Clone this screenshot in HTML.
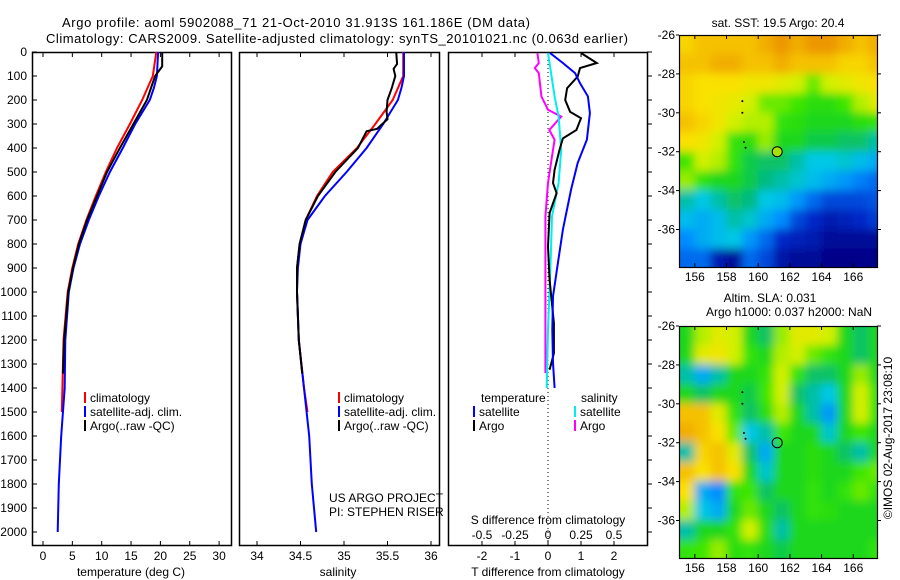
<!DOCTYPE html>
<html><head><meta charset="utf-8"><style>
body{margin:0;background:#fff}
svg{display:block;font-family:"Liberation Sans",sans-serif}
text{font-size:12px;fill:#000}
</style></head><body>
<svg id="s" width="900" height="580" viewBox="0 0 900 580">
<defs><filter id="bl" x="-10%" y="-10%" width="120%" height="120%"><feGaussianBlur stdDeviation="4.5"/></filter></defs>
<rect width="900" height="580" fill="#fff"/>
<text x="62" y="27" textLength="468" style="font-size:13px">Argo profile: aoml 5902088_71 21-Oct-2010 31.913S 161.186E (DM data)</text>
<text x="46" y="43" textLength="582" style="font-size:13px">Climatology: CARS2009. Satellite-adjusted climatology: synTS_20101021.nc (0.063d earlier)</text>
<g id="g"></g>
</svg>
<script>
// ---------- data ----------
const depthTicks=[0,100,200,300,400,500,600,700,800,900,1000,1100,1200,1300,1400,1500,1600,1700,1800,1900,2000];
const tempTicks=[0,5,10,15,20,25,30];
const salTicks=[34,34.5,35,35.5,36];
const tdiffTicks=[-2,-1,0,1,2];
const sdiffTicks=[-0.5,-0.25,0,0.25,0.5];
const lonTicks=[156,158,160,162,164,166];
const latTicks=[-26,-28,-30,-32,-34,-36];

const climDepth=[0,100,200,300,400,500,600,700,800,900,1000,1200,1400,1500];
const climTemp=[19.3,18.7,16.9,14.8,12.6,10.7,9.0,7.4,6.0,5.0,4.2,3.5,3.3,3.2];
const satDepth=[0,100,150,200,300,400,500,600,700,800,900,1000,1200,1400,1600,1800,2000];
const satTemp=[19.6,19.4,18.9,18.2,15.7,13.6,11.4,9.5,7.8,6.3,5.2,4.4,3.8,3.7,3.1,2.7,2.5];
const argoDepth=[0,60,100,200,300,400,500,600,700,800,900,1000,1200,1340];
const argoTemp=[20.3,20.3,19.1,17.7,15.4,13.1,10.9,9.2,7.5,6.1,5.1,4.3,3.6,3.4];

const climSal=[35.68,35.68,35.56,35.36,35.15,34.87,34.69,34.56,34.49,34.46,34.46,34.48,34.54,34.58];
const satSal=[35.69,35.69,35.66,35.62,35.45,35.26,35.03,34.78,34.58,34.5,34.47,34.46,34.48,34.54,34.6,34.63,34.68];
const argoSalDepth=[0,50,70,100,150,200,250,280,320,330,400,500,600,700,800,900,1000,1200,1340];
const argoSal=[35.6,35.61,35.57,35.59,35.55,35.5,35.49,35.5,35.38,35.26,35.16,34.9,34.7,34.56,34.49,34.46,34.46,34.48,34.52];

const tSatDiffDepth=[4,46,88,130,185,254,365,462,573,740,879,1018,1157,1296,1400];
const tSatDiff=[0.06,0.45,0.82,0.97,1.21,1.27,1.18,0.9,0.7,0.45,0.3,0.15,0.13,0.15,0.2];
const tArgoDiffDepth=[4,46,67,102,151,200,249,276,325,360,408,491,546,588,671,810,949,1130,1255,1324];
const tArgoDiff=[1.0,1.48,0.97,0.9,0.58,0.52,0.67,1.0,0.86,0.45,0.35,0.2,0.15,0.26,0.05,0,0.05,0.18,0.18,0.05];
const sSatDiffDepth=[4,185,269,408,546,685,880,1157,1400];
const sSatDiff=[0,0.05,0.08,0.1,0.08,0.03,0.02,0,-0.01];
const sArgoDiffDepth=[4,46,67,88,185,241,269,325,366,435,546,685,880,1157,1338];
const sArgoDiff=[-0.08,-0.07,-0.1,-0.07,-0.05,0,0.1,0.01,0.05,0.03,0,-0.02,-0.02,-0.02,-0.02];

const sstGrid=[
[0.82,0.85,0.85,0.85,0.85,0.88,0.92,0.88,0.92,0.92,0.88,0.85,0.88],
[0.85,0.85,0.88,0.88,0.85,0.85,0.88,0.85,0.85,0.85,0.82,0.82,0.85],
[0.82,0.8,0.8,0.8,0.78,0.78,0.75,0.72,0.65,0.72,0.75,0.78,0.8],
[0.82,0.8,0.78,0.76,0.72,0.65,0.65,0.62,0.58,0.58,0.62,0.7,0.75],
[0.85,0.82,0.78,0.72,0.7,0.7,0.6,0.58,0.55,0.55,0.55,0.58,0.6],
[0.8,0.78,0.72,0.6,0.58,0.68,0.55,0.55,0.52,0.52,0.5,0.5,0.45],
[0.62,0.72,0.7,0.6,0.52,0.5,0.5,0.45,0.4,0.4,0.42,0.38,0.35],
[0.68,0.6,0.55,0.55,0.52,0.48,0.45,0.42,0.38,0.35,0.32,0.28,0.25],
[0.45,0.4,0.45,0.5,0.48,0.4,0.38,0.32,0.25,0.2,0.2,0.2,0.22],
[0.38,0.35,0.38,0.45,0.42,0.35,0.3,0.2,0.15,0.1,0.12,0.15,0.18],
[0.3,0.35,0.38,0.4,0.32,0.25,0.15,0.12,0.1,0.05,0.05,0.05,0.05],
[0.25,0.25,0.1,0.05,0.25,0.2,0.08,0.05,0.05,0.02,0.02,0.02,0.02]];
const slaGrid=[
[0.55,0.7,0.75,0.72,0.55,0.5,0.68,0.75,0.75,0.72,0.55,0.5,0.55],
[0.55,0.75,0.78,0.72,0.6,0.55,0.7,0.72,0.65,0.6,0.55,0.5,0.55],
[0.45,0.35,0.45,0.55,0.55,0.6,0.72,0.6,0.5,0.5,0.55,0.68,0.55],
[0.55,0.5,0.55,0.55,0.52,0.62,0.72,0.5,0.45,0.4,0.55,0.72,0.6],
[0.85,0.85,0.75,0.6,0.5,0.58,0.7,0.55,0.45,0.32,0.55,0.72,0.6],
[0.88,0.85,0.8,0.65,0.4,0.45,0.62,0.55,0.55,0.42,0.55,0.62,0.55],
[0.45,0.82,0.85,0.75,0.5,0.35,0.55,0.55,0.58,0.55,0.5,0.45,0.55],
[0.85,0.8,0.85,0.8,0.55,0.42,0.55,0.55,0.58,0.55,0.55,0.62,0.65],
[0.8,0.35,0.3,0.6,0.62,0.5,0.55,0.55,0.6,0.55,0.6,0.65,0.6],
[0.7,0.4,0.35,0.55,0.65,0.55,0.5,0.55,0.6,0.58,0.55,0.55,0.55],
[0.45,0.55,0.55,0.6,0.72,0.58,0.45,0.55,0.55,0.55,0.55,0.55,0.55],
[0.6,0.62,0.68,0.58,0.6,0.55,0.52,0.55,0.55,0.55,0.55,0.55,0.6]];
const floatLon=[159,159,159.1,159.2];
const floatLat=[-29.4,-30,-31.5,-31.8];
const argoLon=161.2, argoLat=-32;

// ---------- drawing ----------
const NS="http://www.w3.org/2000/svg";
const G=document.getElementById('g');
function el(t,a,p){const e=document.createElementNS(NS,t);for(const k in a)e.setAttribute(k,a[k]);(p||G).appendChild(e);return e;}
function txt(x,y,s,anchor,p,size){const e=el('text',{x:x,y:y,'text-anchor':anchor||'start'},p);if(size)e.style.fontSize=size+'px';e.textContent=s;return e;}
const Y0=52, Y1=545;
const yD=d=>Y0+d*0.24;
const xT=v=>43+v*5.87;
const xS=v=>257+(v-34)*87;
const xTd=v=>548+v*33;
const xSd=v=>548+v*132;

function frame(x0,x1,name){
  const r=el('rect',{x:x0+0.5,y:Y0+0.5,width:x1-x0,height:Y1-Y0,fill:'none',stroke:'#000','stroke-width':1.5});
  
  
}
function line(xs,ds,fx,color,name,w){
  const pts=xs.map((v,i)=>fx(v).toFixed(1)+','+yD(ds[i]).toFixed(1)).join(' ');
  const p=el('polyline',{points:pts,fill:'none',stroke:color,'stroke-width':w||2});
  
  
}
frame(32,231,'temperature-panel');frame(239,439,'salinity-panel');frame(448,647,'difference-panel');
depthTicks.forEach(d=>{
  const t=txt(27,yD(d)+4,String(d),'end');
  
  
  el('line',{x1:32,x2:37,y1:yD(d),y2:yD(d),stroke:'#000'});
  el('line',{x1:647,x2:652,y1:yD(d),y2:yD(d),stroke:'#000'});
});
tempTicks.forEach(v=>{el('line',{x1:xT(v),x2:xT(v),y1:Y0,y2:Y0+5,stroke:'#000'});el('line',{x1:xT(v),x2:xT(v),y1:Y1-4,y2:Y1,stroke:'#000'});
  const t=txt(xT(v),560,String(v),'middle');});
salTicks.forEach(v=>{el('line',{x1:xS(v),x2:xS(v),y1:Y0,y2:Y0+5,stroke:'#000'});el('line',{x1:xS(v),x2:xS(v),y1:Y1-4,y2:Y1,stroke:'#000'});
  const t=txt(xS(v),560,String(v),'middle');});
tdiffTicks.forEach(v=>{el('line',{x1:xTd(v),x2:xTd(v),y1:Y0,y2:Y0+5,stroke:'#000'});el('line',{x1:xTd(v),x2:xTd(v),y1:Y1-4,y2:Y1,stroke:'#000'});
  const t=txt(xTd(v),560,String(v),'middle');});
sdiffTicks.forEach(v=>{const t=txt(xSd(v),539,String(v),'middle');});
let t;
t=txt(131,576,'temperature (deg C)','middle');
t=txt(338,576,'salinity','middle');
t=txt(548,576,'T difference from climatology','middle');
t=txt(548,524,'S difference from climatology','middle');
el('line',{x1:548,x2:548,y1:Y0,y2:Y1,stroke:'#000','stroke-dasharray':'1,3'});
line(climTemp,climDepth,xT,'#f00','clim-temp-line');
line(satTemp,satDepth,xT,'#00f','sat-temp-line');
line(argoTemp,argoDepth,xT,'#000','argo-temp-line');
line(climSal,climDepth,xS,'#f00','clim-sal-line');
line(satSal,satDepth,xS,'#00f','sat-sal-line');
line(argoSal,argoSalDepth,xS,'#000','argo-sal-line');
line(sArgoDiff,sArgoDiffDepth,xSd,'#f0f','s-argo-diff-line');
line(sSatDiff,sSatDiffDepth,xSd,'#0ee','s-sat-diff-line');
line(tArgoDiff,tArgoDiffDepth,xTd,'#000','t-argo-diff-line');
line(tSatDiff,tSatDiffDepth,xTd,'#00f','t-sat-diff-line');
function leg(x,y,c,s,name){el('rect',{x:x,y:y-10,width:2,height:11,fill:c});const t=txt(x+6,y,s,'start');}
[[84,'legend-1'],[338,'legend-2']].forEach(([x,n])=>{leg(x,402,'#f00','climatology',n+'-climatology');leg(x,416,'#00f','satellite-adj. clim.',n+'-satellite');leg(x,430,'#000','Argo(..raw -QC)',n+'-argo');});
txt(481,402,'temperature');txt(581,402,'salinity');
leg(473,416,'#00f','satellite','legend-t-satellite');leg(473,430,'#000','Argo','legend-t-argo');
leg(574,416,'#0ee','satellite','legend-s-satellite');leg(574,430,'#f0f','Argo','legend-s-argo');
t=txt(329,502,'US ARGO PROJECT','start');
t=txt(329,516,'PI: STEPHEN RISER','start');

const stops=[[0,[0,0,127]],[0.15,[0,40,200]],[0.3,[0,140,255]],[0.4,[0,200,230]],[0.48,[0,185,130]],[0.55,[30,215,30]],[0.62,[60,230,0]],[0.72,[210,240,0]],[0.8,[250,225,0]],[0.9,[240,160,0]],[1,[220,110,0]]];
function cmap(v){for(let i=1;i<stops.length;i++){if(v<=stops[i][0]){const a=stops[i-1],b=stops[i],f=(v-a[0])/(b[0]-a[0]);return 'rgb('+a[1].map((c,k)=>Math.round(c+(b[1][k]-c)*f)).join(',')+')';}}return 'rgb(220,110,0)';}
function map(top,grid,name,filled){
  const x0=679,x1=877,yy=top,bot=top+232;
  const lx=v=>679+(v-155)*15.84, ly=v=>yy+(-26-v)*19.45;
  const id='c'+top;
  const cp=el('clipPath',{id:id});el('rect',{x:x0,y:yy,width:x1-x0,height:bot-yy},cp);
  const outer=el('g',{'clip-path':'url(#'+id+')'});
  const gg=el('g',{filter:'url(#bl)'},outer);
  
  
  const nr=grid.length, nc=grid[0].length;
  grid.forEach((row,r)=>row.forEach((v,c)=>{
    let x=lx(155+c)-0.3, y=ly(-26-r)-0.3, w=16.5, h=20;
    if(c===0){x-=25;w+=25;} if(c===nc-1){w+=25;}
    if(r===0){y-=25;h+=25;} if(r===nr-1){h+=30;}
    const cell=el('rect',{x:x,y:y,width:w,height:h,fill:cmap(v)},gg);
    
    
  }));
  floatLon.forEach((lo,i)=>el('circle',{cx:lx(lo),cy:ly(floatLat[i]),r:1,fill:'#000'},outer));
  const c=el('circle',{cx:lx(argoLon),cy:ly(argoLat),r:5,fill:filled?'#a8e000':'none',stroke:'#000','stroke-width':1},outer);
  
  
  el('rect',{x:x0+0.5,y:yy+0.5,width:x1-x0,height:bot-yy,fill:'none',stroke:'#000','stroke-width':1.2});
  lonTicks.forEach(v=>{el('line',{x1:lx(v),x2:lx(v),y1:yy,y2:yy+4,stroke:'#000'});el('line',{x1:lx(v),x2:lx(v),y1:bot-4,y2:bot,stroke:'#000'});
    const t=txt(lx(v),bot+14,String(v),'middle');});
  latTicks.forEach(v=>{el('line',{x1:x1,x2:x1+4,y1:ly(v),y2:ly(v),stroke:'#000'});el('line',{x1:x0-3,x2:x0,y1:ly(v),y2:ly(v),stroke:'#000'});
    const t=txt(675,ly(v)+4,String(v),'end');});
}
map(35,sstGrid,'sst-map',true);
map(326,slaGrid,'sla-map',false);
t=txt(778,27,'sat. SST: 19.5 Argo: 20.4','middle');
t=txt(770,302,'Altim. SLA: 0.031','middle');
t=txt(789,316,'Argo h1000: 0.037 h2000: NaN','middle');
t=txt(0,0,'©IMOS 02-Aug-2017 23:08:10','middle');
t.setAttribute('transform','translate(892,438) rotate(-90)');


</script>
</body></html>
